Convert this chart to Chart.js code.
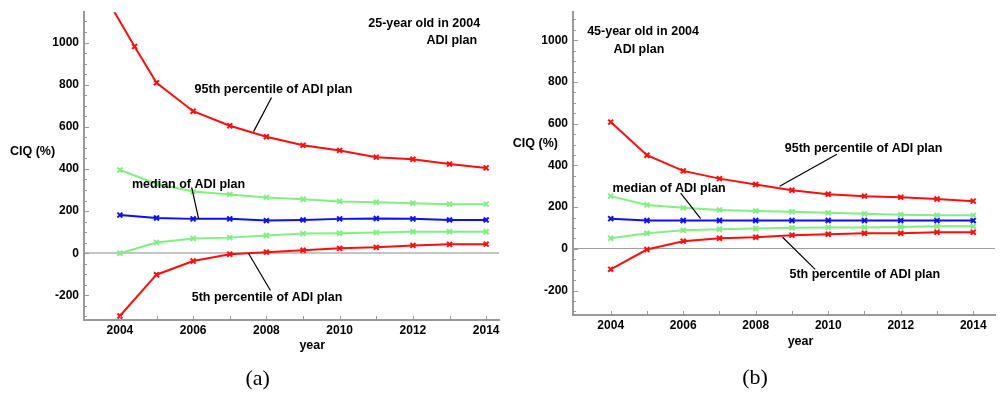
<!DOCTYPE html>
<html>
<head>
<meta charset="utf-8">
<script src="https://cdn.jsdelivr.net/npm/chart.js@4.4.0/dist/chart.umd.min.js"></script>
<style>
body { margin: 0; background: #fff; width: 1001px; height: 397px; overflow: hidden; position: relative; }
.box { position: absolute; top: 0; height: 397px; }
</style>
</head>
<body>
<div class="box" style="left:0;width:505px"><canvas id="chartA"></canvas></div>
<div class="box" style="left:505px;width:496px"><canvas id="chartB"></canvas></div>
<script>
// anos
const years = [2004, 2005, 2006, 2007, 2008, 2009, 2010, 2011, 2012, 2013, 2014];
const xTickYears = [2004, 2005, 2006, 2007, 2008, 2009, 2010, 2011, 2012, 2013, 2014];
const yTickValues = [-300, -250, -200, -150, -100, -50, 0, 50, 100, 150, 200, 250, 300, 350, 400,
    450, 500, 550, 600, 650, 700, 750, 800, 850, 900, 950, 1000, 1050, 1100];

// (a) 25-year old in 2004
const a95Years = [2003.8, 2004.4, 2005, 2006, 2007, 2008, 2009, 2010, 2011, 2012, 2013, 2014];
const a95 = [1160, 981, 809, 674, 605, 553, 512, 488, 456, 446, 423, 405];
const aUpper = [395, 330, 293, 279, 265, 256, 246, 242, 237, 233, 233];
const aMedian = [181, 167, 163, 163, 155, 158, 163, 165, 163, 158, 158];
const aLower = [0, 51, 70, 74, 84, 93, 95, 98, 102, 102, 102];
const a5 = [-298, -102, -37, -5, 5, 14, 23, 28, 37, 42, 43];

// (b) 45-year old in 2004
const b95 = [608, 449, 374, 337, 309, 281, 262, 253, 248, 239, 229];
const bUpper = [253, 211, 197, 187, 182, 178, 173, 168, 164, 161, 161];
const bMedian = [145, 136, 136, 136, 136, 136, 136, 136, 136, 136, 136];
const bLower = [51, 75, 89, 94, 98, 101, 103, 103, 105, 108, 108];
const b5 = [-98, -3, 37, 51, 56, 66, 70, 75, 75, 80, 80];

const RED = '#ff0d0d';
const GREEN = '#80f080';
const BLUE = '#0d0dff';

// textos e linhas de chamada (coordenadas em dados)
const notesA = {
    texts: [
        { text: '25-year old in 2004', x: 2010.78, y: 1088 },
        { text: 'ADI plan', x: 2012.37, y: 1009 },
        { text: '95th percentile of ADI plan', x: 2006.04, y: 777 },
        { text: 'median of ADI plan', x: 2004.33, y: 326 },
        { text: '5th percentile of ADI plan', x: 2005.96, y: -209 },
        { text: 'CIQ (%)', x: 2001.0, y: 484 },
        { text: 'year', x: 2008.9, y: -437 }
    ],
    leaders: [
        [2008.14, 739, 2007.65, 577],
        [2005.96, 312, 2006.15, 163],
        [2008.11, -177, 2007.51, 0]
    ],
    caption: { text: '(a)', x: 2007.76, y: -598 },
    zeroColor: '#c4c4c4',
    zeroWidth: 2
};
const notesB = {
    texts: [
        { text: '45-year old in 2004', x: 2003.35, y: 1044 },
        { text: 'ADI plan', x: 2004.08, y: 955 },
        { text: '95th percentile of ADI plan', x: 2008.80, y: 482 },
        { text: 'median of ADI plan', x: 2004.05, y: 290 },
        { text: '5th percentile of ADI plan', x: 2008.93, y: -122 },
        { text: 'CIQ (%)', x: 2001.3, y: 505 },
        { text: 'year', x: 2008.88, y: -445 }
    ],
    leaders: [
        [2010.24, 454, 2008.66, 300],
        [2005.93, 267, 2006.48, 145],
        [2009.64, -98, 2008.74, 56]
    ],
    caption: { text: '(b)', x: 2007.98, y: -621 },
    zeroColor: '#a0a0a0',
    zeroWidth: 1
};

const notesPlugin = {
    id: 'notes',
    afterDraw(chart, args, opts) {
        const ctx = chart.ctx;
        const xs = chart.scales.x;
        const ys = chart.scales.y;
        const area = chart.chartArea;
        ctx.save();
        // marcas dos eixos para dentro
        ctx.strokeStyle = '#999';
        ctx.lineWidth = 1;
        ctx.beginPath();
        ys.ticks.forEach(t => {
            const py = Math.round(ys.getPixelForValue(t.value)) + 0.5;
            const len = t.value % 200 === 0 ? 5 : 3;
            ctx.moveTo(area.left, py);
            ctx.lineTo(area.left + len, py);
        });
        xs.ticks.forEach(t => {
            const px = Math.round(xs.getPixelForValue(t.value)) + 0.5;
            ctx.moveTo(px, area.bottom);
            ctx.lineTo(px, area.bottom - 4);
        });
        ctx.stroke();
        // linhas de chamada
        ctx.strokeStyle = '#000';
        ctx.lineWidth = 1.2;
        opts.leaders.forEach(l => {
            ctx.beginPath();
            ctx.moveTo(xs.getPixelForValue(l[0]), ys.getPixelForValue(l[1]));
            ctx.lineTo(xs.getPixelForValue(l[2]), ys.getPixelForValue(l[3]));
            ctx.stroke();
        });
        // textos
        ctx.fillStyle = '#000';
        ctx.font = 'bold 12.5px "Liberation Sans", Arial, sans-serif';
        ctx.textBaseline = 'middle';
        ctx.textAlign = 'left';
        opts.texts.forEach(t => {
            ctx.fillText(t.text, xs.getPixelForValue(t.x), ys.getPixelForValue(t.y));
        });
        ctx.font = '22px "Liberation Serif", "DejaVu Serif", serif';
        ctx.textAlign = 'center';
        ctx.fillText(opts.caption.text, xs.getPixelForValue(opts.caption.x), ys.getPixelForValue(opts.caption.y));
        ctx.restore();
    }
};

function series(label, xv, yv, color) {
    return {
        label: label,
        data: xv.map((x, i) => ({ x: x, y: yv[i] })),
        borderColor: color,
        backgroundColor: color,
        borderWidth: 2,
        pointStyle: 'crossRot',
        pointRadius: 3.5,
        pointBorderWidth: 2,
        tension: 0
    };
}

function makeConfig(datasets, notes, xMin, xMax, yMin, yMax, yWidth, pad) {
    return {
        type: 'line',
        data: { datasets: datasets },
        options: {
            responsive: true,
            maintainAspectRatio: false,
            animation: false,
            layout: { padding: pad },
            plugins: {
                legend: { display: false },
                tooltip: { enabled: false },
                notes: notes
            },
            scales: {
                x: {
                    type: 'linear',
                    min: xMin,
                    max: xMax,
                    afterBuildTicks: scale => { scale.ticks = xTickYears.map(v => ({ value: v })); },
                    afterFit: scale => { scale.height = 30; },
                    grid: { display: false, drawTicks: false },
                    border: { display: true, color: '#999', width: 2 },
                    ticks: {
                        padding: 3,
                        color: '#000',
                        font: { family: '"Liberation Sans", Arial, sans-serif', size: 12, weight: 'bold' },
                        maxRotation: 0,
                        autoSkip: false,
                        callback: v => (v % 2 === 0 ? String(v) : '')
                    }
                },
                y: {
                    min: yMin,
                    max: yMax,
                    afterBuildTicks: scale => { scale.ticks = yTickValues.map(v => ({ value: v })); },
                    afterFit: scale => { scale.width = yWidth; },
                    grid: {
                        drawTicks: false,
                        color: c => (c.tick && c.tick.value === 0 ? notes.zeroColor : 'rgba(0,0,0,0)'),
                        lineWidth: c => (c.tick && c.tick.value === 0 ? notes.zeroWidth : 1)
                    },
                    border: { display: true, color: '#999', width: 2 },
                    ticks: {
                        padding: 5,
                        color: '#000',
                        font: { family: '"Liberation Sans", Arial, sans-serif', size: 12, weight: 'bold' },
                        autoSkip: false,
                        callback: v => (v % 200 === 0 ? String(v) : '')
                    }
                }
            }
        },
        plugins: [notesPlugin]
    };
}

const dataA = [
    series('95th percentile', a95Years, a95, RED),
    series('upper', years, aUpper, GREEN),
    series('median', years, aMedian, BLUE),
    series('lower', years, aLower, GREEN),
    series('5th percentile', years, a5, RED)
];
const dataB = [
    series('95th percentile', years, b95, RED),
    series('upper', years, bUpper, GREEN),
    series('median', years, bMedian, BLUE),
    series('lower', years, bLower, GREEN),
    series('5th percentile', years, b5, RED)
];

new Chart(document.getElementById('chartA').getContext('2d'),
    makeConfig(dataA, notesA, 2003.02, 2014.35, -317, 1144, 84, { top: 7, left: 0, right: 5, bottom: 47 }));
new Chart(document.getElementById('chartB').getContext('2d'),
    makeConfig(dataB, notesB, 2002.96, 2014.6, -317, 1135, 68, { top: 4, left: 0, right: 1, bottom: 52 }));
</script>
</body>
</html>
